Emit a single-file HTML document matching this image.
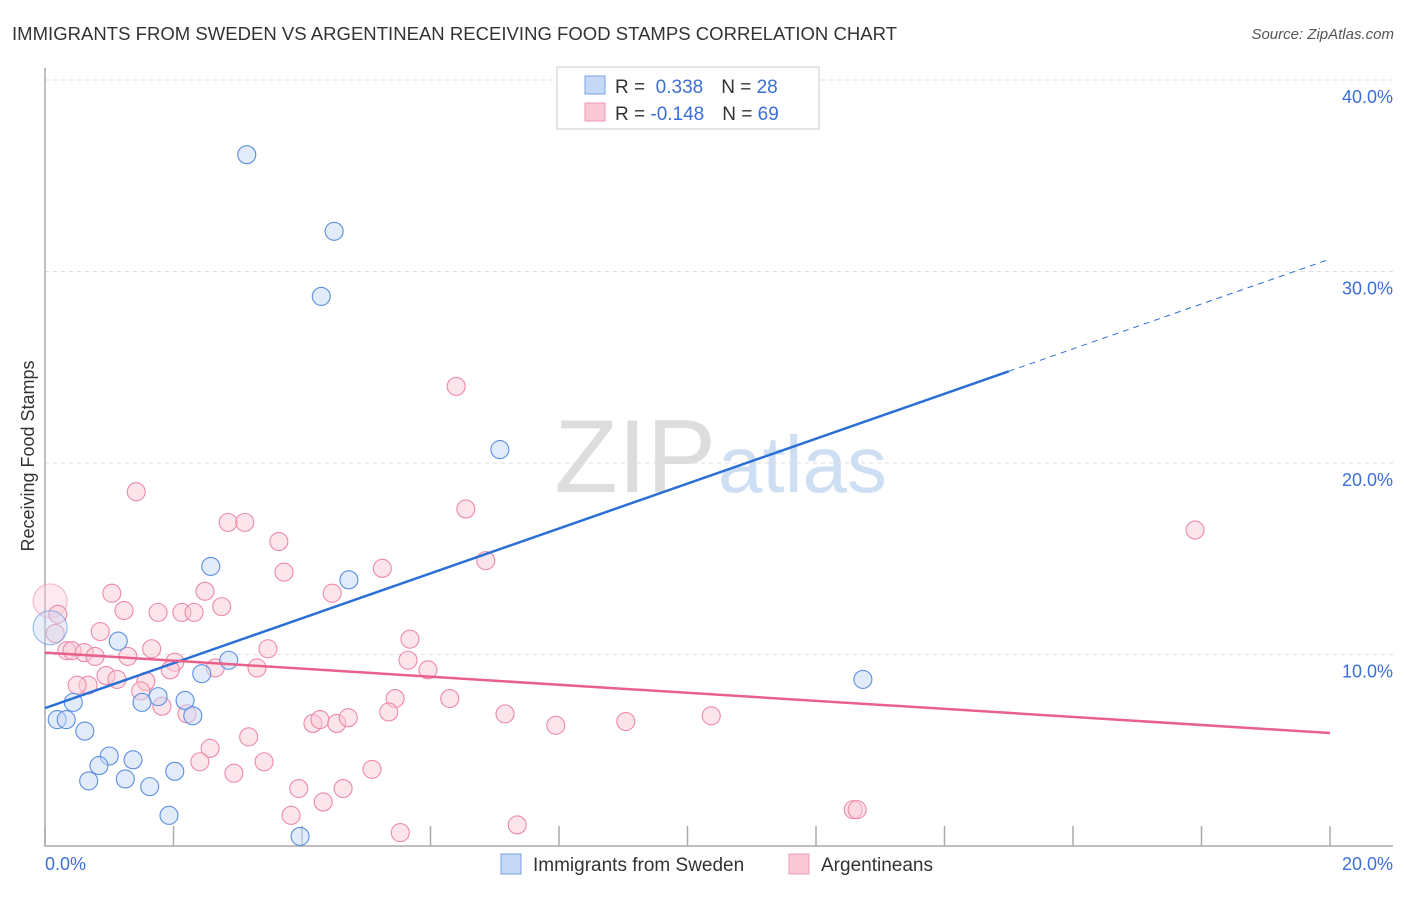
<!DOCTYPE html>
<html><head><meta charset="utf-8"><style>
body{margin:0;background:#fff;font-family:"Liberation Sans",sans-serif}
svg text{font-family:"Liberation Sans",sans-serif}
</style></head><body>
<svg id="chart" width="1406" height="892">
<text x="12" y="40" font-size="18.5" fill="#333" textLength="885">IMMIGRANTS FROM SWEDEN VS ARGENTINEAN RECEIVING FOOD STAMPS CORRELATION CHART</text>
<text x="1394" y="39" font-size="15" fill="#555" text-anchor="end" font-style="italic">Source: ZipAtlas.com</text>
<text x="716" y="492" font-size="104" fill="#ddd" text-anchor="end" font-family="Liberation Serif">ZIP</text>
<text x="718" y="492" font-size="80" fill="#cfdff3">atlas</text>
<g id="grid"></g>
<g id="axes"></g>
<g id="pts"></g>
<g id="trends"></g>
<text transform="translate(34,456) rotate(-90)" font-size="18" fill="#333" text-anchor="middle">Receiving Food Stamps</text>
<text x="45" y="870" font-size="18" fill="#3b6fd6">0.0%</text>
<text x="1393" y="870" font-size="18" fill="#3b6fd6" text-anchor="end">20.0%</text>
<g>
<rect x="557" y="67" width="262" height="62" fill="#fff" stroke="#ccc"/>
<rect x="585" y="76" width="20" height="18" fill="#c5d8f5" stroke="#7aa3e5"/>
<rect x="585" y="103" width="20" height="18" fill="#f9c9d7" stroke="#ee9ab3"/>
<text x="615" y="93" font-size="19" fill="#333">R = <tspan fill="#3b6fd6">&#160;0.338</tspan><tspan dx="18">N = </tspan><tspan fill="#3b6fd6">28</tspan></text>
<text x="615" y="120" font-size="19" fill="#333">R = <tspan fill="#3b6fd6">-0.148</tspan><tspan dx="18">N = </tspan><tspan fill="#3b6fd6">69</tspan></text>
</g>
<g>
<rect x="501" y="854" width="20" height="20" fill="#c5d8f5" stroke="#7aa3e5"/>
<text x="533" y="871" font-size="19" fill="#333">Immigrants from Sweden</text>
<rect x="789" y="854" width="20" height="20" fill="#f9c9d7" stroke="#ee9ab3"/>
<text x="821" y="871" font-size="19" fill="#333">Argentineans</text>
</g>
</svg>
<script>
const yTicks=[10,20,30,40];
const yTickLabels=["10.0%","20.0%","30.0%","40.0%"];
const xTicks=[0,2,4,6,8,10,12,14,16,18,20];
const blueX=[3.14,4.5,4.3,7.08,12.73,2.58,4.73,1.14,2.86,2.44,1.76,1.51,2.18,2.30,0.44,0.19,0.33,0.62,1.0,0.84,1.37,0.68,1.25,1.63,2.02,1.93,3.97,0.08];
const blueY=[36.1,32.1,28.7,20.7,8.7,14.6,13.9,10.7,9.7,9.0,7.8,7.5,7.6,6.8,7.5,6.6,6.6,6.0,4.7,4.2,4.5,3.4,3.5,3.1,3.9,1.6,0.5,11.4];
const pinkX=[0.08,0.2,0.16,6.4,1.42,6.55,17.9,2.85,3.11,3.64,6.86,3.72,5.25,1.04,2.49,4.47,2.75,1.23,1.76,2.13,2.32,0.86,5.68,3.47,1.66,0.34,0.42,0.61,0.78,1.29,2.02,5.65,3.3,1.95,2.65,5.96,0.95,1.12,1.57,0.67,0.5,1.49,1.82,2.21,5.45,6.3,5.35,7.16,4.17,4.28,4.54,4.72,7.95,9.04,10.37,3.17,2.57,2.41,3.41,2.94,5.09,3.95,4.64,4.33,3.83,7.35,5.53,12.58,12.64];
const pinkY=[12.8,12.1,11.1,24.0,18.5,17.6,16.5,16.9,16.9,15.9,14.9,14.3,14.5,13.2,13.3,13.2,12.5,12.3,12.2,12.2,12.2,11.2,10.8,10.3,10.3,10.2,10.2,10.1,9.9,9.9,9.6,9.7,9.3,9.2,9.3,9.2,8.9,8.7,8.6,8.4,8.4,8.1,7.3,6.9,7.7,7.7,7.0,6.9,6.4,6.6,6.4,6.7,6.3,6.5,6.8,5.7,5.1,4.4,4.4,3.8,4.0,3.0,3.0,2.3,1.6,1.1,0.7,1.9,1.9];
const blueTrend=[7.2,30.65], blueSolidEnd=15.0;
const pinkTrend=[10.1,5.9];
const NS="http://www.w3.org/2000/svg";
const X=v=>45+v/20*1285, Y=v=>846-v*19.15;
function mk(t,a,p){const e=document.createElementNS(NS,t);for(const k in a)e.setAttribute(k,a[k]);p.appendChild(e);return e;}
const grid=document.getElementById('grid'),axes=document.getElementById('axes'),pts=document.getElementById('pts'),tr=document.getElementById('trends');
yTicks.forEach((v,i)=>{
 const l=mk('line',{x1:45,x2:1393,y1:Y(v),y2:Y(v),stroke:'#ddd','stroke-dasharray':'4,4'},grid);
 
 
 const t=mk('text',{x:1393,y:Y(v)+23,'font-size':18,fill:'#3b6fd6','text-anchor':'end'},grid);
 t.textContent=yTickLabels[i];
 
 
});
const ax=mk('path',{d:'M45,68V846H1393',fill:'none',stroke:'#aaa','stroke-width':1.5},axes);


xTicks.forEach(v=>{
 const l=mk('line',{x1:X(v),x2:X(v),y1:826,y2:846,stroke:'#aaa','stroke-width':1.5},axes);
 
 
});
function dots(xs,ys,fill,stroke,name){
 xs.forEach((x,i)=>{
  const big=(x<0.1);
  const c=mk('circle',{cx:X(x),cy:Y(ys[i]),r:big?17:9,fill:fill,'fill-opacity':big?0.4:0.5,stroke:stroke,'stroke-opacity':big?0.6:1,'stroke-width':1.1},pts);
  
  
 });
}
dots(pinkX,pinkY,'#f9c9d7','#ec8aa8','argentinean-point');
dots(blueX,blueY,'#c5d8f5','#5a8ee0','sweden-point');
const by=x=>blueTrend[0]+(blueTrend[1]-blueTrend[0])*x/20;
let l=mk('line',{x1:X(0),y1:Y(by(0)),x2:X(blueSolidEnd),y2:Y(by(blueSolidEnd)),stroke:'#2a6fd6','stroke-width':2.5},tr);


l=mk('line',{x1:X(blueSolidEnd),y1:Y(by(blueSolidEnd)),x2:X(20),y2:Y(by(20)),stroke:'#2a6fd6','stroke-width':1,'stroke-dasharray':'6,5'},tr);


l=mk('line',{x1:X(0),y1:Y(pinkTrend[0]),x2:X(20),y2:Y(pinkTrend[1]),stroke:'#e8608c','stroke-width':2.5},tr);


</script>
</body></html>
